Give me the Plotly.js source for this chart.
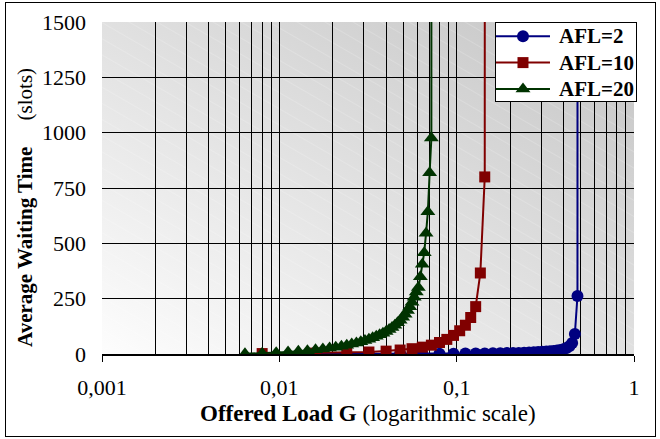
<!DOCTYPE html>
<html>
<head>
<meta charset="utf-8">
<script src="https://cdn.plot.ly/plotly-3.0.1.min.js"></script>
<style>
html,body{margin:0;padding:0;background:#fff;}
#chart{position:absolute;left:0;top:0;width:660px;height:439px;}
#frame{position:absolute;left:5px;top:2px;width:651px;height:435px;border:1.5px solid #000;box-sizing:border-box;pointer-events:none;}
</style>
</head>
<body>
<div id="chart"></div>
<div id="frame"></div>
<script>
// Offered load G (log axis) and average waiting time (slots)
const loadAFL2 = [0.016,0.032,0.048,0.064,0.08,0.096,0.112,0.128,0.144,0.16,0.176,0.192,0.208,0.224,0.24,0.256,0.272,0.288,0.304,0.32,0.336,0.352,0.368,0.384,0.4,0.416,0.432,0.448,0.464,0.48,0.496];
const waitAFL2 = [0,0,1,1,1,1,2,2,2,3,3,4,4,5,6,7,8,9,10,11,12,14,16,18,22,27,35,50,90,262,100000];

const loadAFL10 = [0.008,0.016,0.024,0.032,0.04,0.048,0.056,0.064,0.072,0.08,0.088,0.096,0.104,0.112,0.12,0.128,0.136,0.144,0.152];
const waitAFL10 = [2,4,6,9,13,18,24,31,40,52,66,84,105,130,165,214,366,800,100000];

const loadAFL20 = [0.0064,0.008,0.0096,0.0112,0.0128,0.0144,0.016,0.0176,0.0192,0.0208,0.0224,0.024,0.0256,0.0272,0.0288,0.0304,0.032,0.0336,0.0352,0.0368,0.0384,0.04,0.0416,0.0432,0.0448,0.0464,0.048,0.0496,0.0512,0.0528,0.0544,0.056,0.0576,0.0592,0.0608,0.0624,0.064,0.0656,0.0672,0.0688,0.0704,0.072,0.0736];
const waitAFL20 = [1,3,6,9,12,15,19,23,27,31,35,40,45,50,55,61,67,73,80,87,94,102,111,120,130,141,153,166,180,196,214,234,256,280,300,349,405,458,545,643,819,976,100000];

const seriesNames = ["AFL=2","AFL=10","AFL=20"];
const xTickVals = [0.001,0.01,0.1,1];
const xTickText = ["0,001","0,01","0,1","1"];
const yTickVals = [0,250,500,750,1000,1250,1500];

const serif = "'Liberation Serif','Times New Roman',serif";

const bgSvg = '<svg xmlns="http://www.w3.org/2000/svg" width="532" height="332" viewBox="0 0 532 332">' +
  '<defs><linearGradient id="g" x1="0" y1="1" x2="1" y2="0">' +
  '<stop offset="0" stop-color="#fdfdfd"/><stop offset="1" stop-color="#c4c4c4"/></linearGradient>' +
  '<pattern id="p" width="14" height="14" patternUnits="userSpaceOnUse" patternTransform="rotate(30)">' +
  '<line x1="0" y1="0" x2="14" y2="0" stroke="#ffffff" stroke-width="1" stroke-opacity="0.35"/></pattern></defs>' +
  '<rect width="532" height="332" fill="url(#g)"/><rect width="532" height="332" fill="url(#p)"/></svg>';
const bgUri = 'data:image/svg+xml;base64,' + btoa(bgSvg);

const traces = [
  {x: loadAFL2, y: waitAFL2, name: seriesNames[0], mode: 'lines+markers',
   line: {color: '#000080', width: 2}, marker: {symbol: 'circle', size: 12, color: '#000080'}},
  {x: loadAFL10, y: waitAFL10, name: seriesNames[1], mode: 'lines+markers',
   line: {color: '#800000', width: 2}, marker: {symbol: 'square', size: 11, color: '#800000'}},
  {x: loadAFL20, y: waitAFL20, name: seriesNames[2], mode: 'lines+markers',
   line: {color: '#003300', width: 2}, marker: {symbol: 'triangle-up', size: 13, color: '#003300'}}
];

const layout = {
  width: 660, height: 439,
  margin: {l: 102, r: 26, t: 22, b: 85},
  paper_bgcolor: '#ffffff',
  plot_bgcolor: 'rgba(0,0,0,0)',
  separators: ',.',
  font: {family: serif, size: 18, color: '#000'},
  showlegend: true,
  legend: {x: 0.7387, y: 1.0, xanchor: 'left', yanchor: 'top',
    bgcolor: '#ffffff', bordercolor: '#000', borderwidth: 1,
    font: {family: serif, size: 18, color: '#000', weight: 'bold'},
    tracegroupgap: 0, itemwidth: 53},
  xaxis: {type: 'log', range: [-3, 0], tickmode: 'array', tickvals: xTickVals, ticktext: xTickText,
    showgrid: true, gridcolor: '#000', gridwidth: 1,
    minor: {dtick: 'D1', showgrid: true, gridcolor: '#000', gridwidth: 1, ticks: ''},
    ticks: 'outside', ticklen: 6, tickcolor: '#000', ticklabelstandoff: 7,
    showline: true, linecolor: '#000', linewidth: 1.5, mirror: false, zeroline: false,
    tickfont: {family: serif, size: 22, color: '#000'}},
  yaxis: {range: [0, 1500], tickmode: 'array', tickvals: yTickVals,
    showgrid: true, gridcolor: '#000', gridwidth: 1, zeroline: false,
    ticks: '', ticklabelstandoff: 15, showline: false,
    tickfont: {family: serif, size: 22, color: '#000'}},
  images: [{source: bgUri, xref: 'paper', yref: 'paper', x: 0, y: 1, sizex: 1, sizey: 1,
    xanchor: 'left', yanchor: 'top', sizing: 'stretch', layer: 'below'}],
  annotations: [
    {text: '<b>Offered Load G</b> (logarithmic scale)', xref: 'paper', yref: 'paper',
     x: 0.5, y: -0.178, xanchor: 'center', yanchor: 'middle', showarrow: false,
     font: {family: serif, size: 23, color: '#000'}},
    {text: '<b>Average Waiting Time</b>\u00a0\u00a0\u00a0\u00a0\u00a0(slots)', xref: 'paper', yref: 'paper',
     x: -0.1447, y: 0.44, xanchor: 'center', yanchor: 'middle', textangle: -90, showarrow: false,
     font: {family: serif, size: 21, color: '#000'}}
  ]
};

Plotly.newPlot('chart', traces, layout, {displayModeBar: false, staticPlot: true}).then(function () {
  // Legend styling closer to the original: larger text, longer symbol lines, tighter box
  const lg = document.querySelector('.legend');
  if (!lg) return;
  lg.querySelectorAll('.legendtext').forEach(function (t) { t.style.fontSize = '21px'; });
  lg.querySelectorAll('.legendlines path').forEach(function (p) { p.setAttribute('d', 'M0,0h54'); });
  lg.querySelectorAll('.legendpoints path').forEach(function (p) {
    p.setAttribute('transform', 'translate(27,0)');
  });
  lg.querySelectorAll('.traces').forEach(function (g) {
    const m = /translate\(([-\d.]+),\s*([-\d.]+)\)/.exec(g.getAttribute('transform') || '');
    if (m) g.setAttribute('transform', 'translate(' + m[1] + ',' + (parseFloat(m[2]) - 5) + ')');
  });
  const bg = lg.querySelector('.bg');
  if (bg) { bg.setAttribute('width', '141'); bg.setAttribute('height', '79'); }
  document.querySelectorAll('clipPath[id^="legend"] rect').forEach(function (r) {
    r.setAttribute('width', '160'); r.setAttribute('height', '100');
  });
  lg.querySelectorAll('[clip-path]').forEach(function (el) { el.removeAttribute('clip-path'); });
});
</script>
</body>
</html>
